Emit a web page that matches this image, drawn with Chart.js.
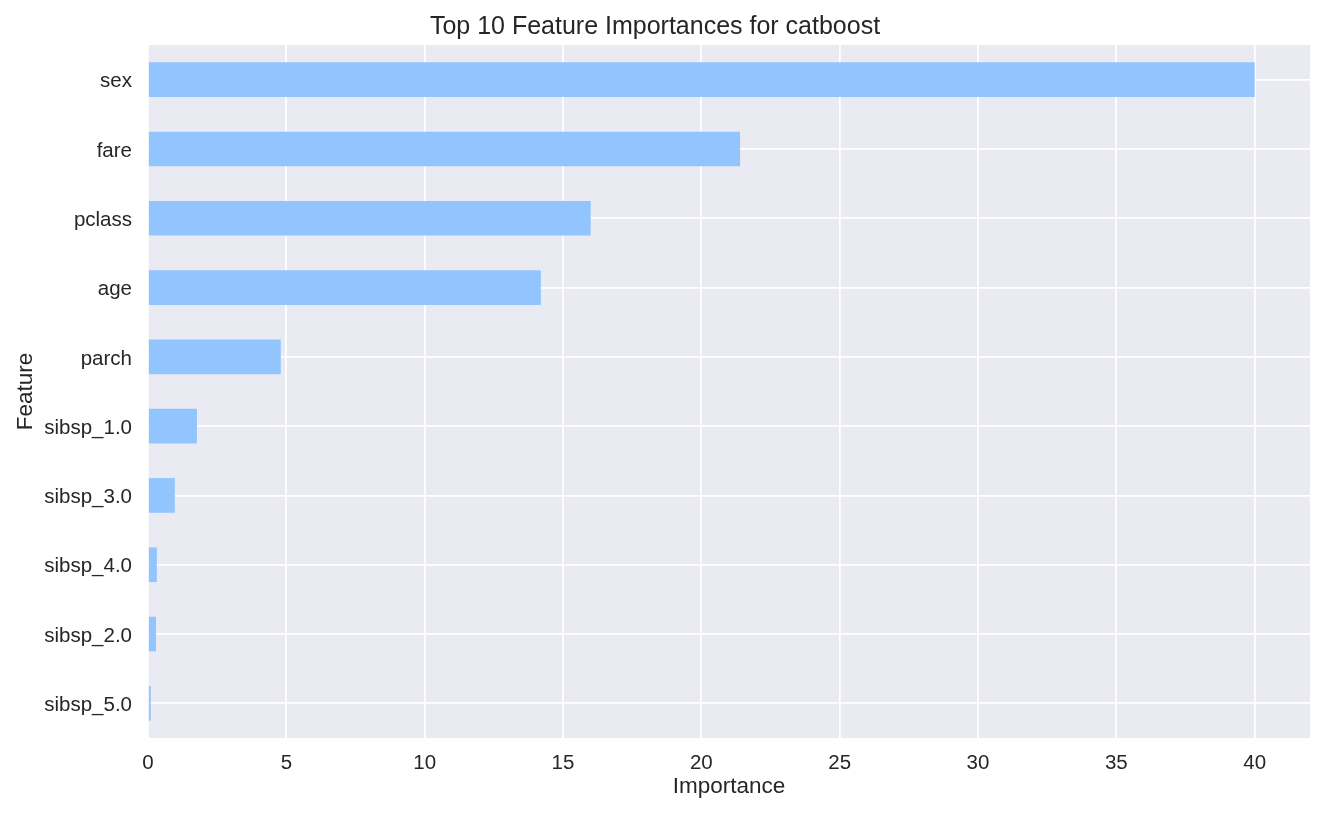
<!DOCTYPE html>
<html>
<head>
<meta charset="utf-8">
<script src="https://cdn.jsdelivr.net/npm/chart.js@4"></script>
<style>
  html, body { margin: 0; padding: 0; background: #fff; }
  #wrap { width: 1325px; height: 815px; }
</style>
</head>
<body>
<div id="wrap"><canvas id="chart"></canvas></div>
<script>
const features = ["sex", "fare", "pclass", "age", "parch", "sibsp_1.0", "sibsp_3.0", "sibsp_4.0", "sibsp_2.0", "sibsp_5.0"];
const importances = [40.0, 21.4, 16.0, 14.2, 4.8, 1.77, 0.97, 0.32, 0.29, 0.1];
const xTicks = [0, 5, 10, 15, 20, 25, 30, 35, 40];

const fontFamily = "'Liberation Sans', Arial, sans-serif";
const textColor = "#262626";

const plotBackground = {
  id: "plotBackground",
  beforeDraw(chart) {
    const { ctx, chartArea } = chart;
    ctx.save();
    ctx.fillStyle = "#ffffff";
    ctx.fillRect(0, 0, chart.width, chart.height);
    ctx.fillStyle = "#EAEAF2";
    ctx.fillRect(chartArea.left, chartArea.top, chartArea.right - chartArea.left, chartArea.bottom - chartArea.top);
    ctx.restore();
  },
};

const ctx = document.getElementById("chart").getContext("2d");
new Chart(ctx, {
  type: "bar",
  data: {
    labels: features,
    datasets: [
      {
        label: "Importance",
        data: importances,
        backgroundColor: "#92C5FE",
        borderWidth: 0,
        barPercentage: 0.5,
        categoryPercentage: 1.0,
      },
    ],
  },
  options: {
    indexAxis: "y",
    responsive: true,
    maintainAspectRatio: false,
    animation: false,
    layout: { padding: { left: 0, right: 15, top: 0, bottom: 0 } },
    scales: {
      x: {
        type: "linear",
        min: 0,
        max: 42,
        afterBuildTicks: (scale) => {
          scale.ticks = xTicks.map((v) => ({ value: v }));
        },
        afterFit: (scale) => {
          scale.height = 77;
        },
        grid: { color: "#ffffff", lineWidth: 1.75, drawTicks: false },
        border: { display: false },
        ticks: {
          padding: 13,
          color: textColor,
          font: { family: fontFamily, size: 20.5 },
        },
        title: {
          display: true,
          text: "Importance",
          color: textColor,
          font: { family: fontFamily, size: 22.5 },
          padding: { top: 0, bottom: 15 },
        },
      },
      y: {
        offset: true,
        afterFit: (scale) => {
          scale.width = 148;
        },
        grid: { color: "#ffffff", lineWidth: 1.75, drawTicks: false, offset: false },
        border: { display: false },
        ticks: {
          padding: 16,
          labelOffset: 2,
          color: textColor,
          font: { family: fontFamily, size: 20.5 },
        },
        title: {
          display: true,
          text: "Feature",
          color: textColor,
          font: { family: fontFamily, size: 22.5 },
          padding: { top: 12, bottom: 0 },
        },
      },
    },
    plugins: {
      legend: { display: false },
      tooltip: { enabled: false },
      title: {
        display: true,
        text: "Top 10 Feature Importances for catboost",
        color: textColor,
        font: { family: fontFamily, size: 25, weight: "normal" },
        padding: { top: 12, bottom: 3 },
      },
    },
  },
  plugins: [plotBackground],
});
</script>
</body>
</html>
